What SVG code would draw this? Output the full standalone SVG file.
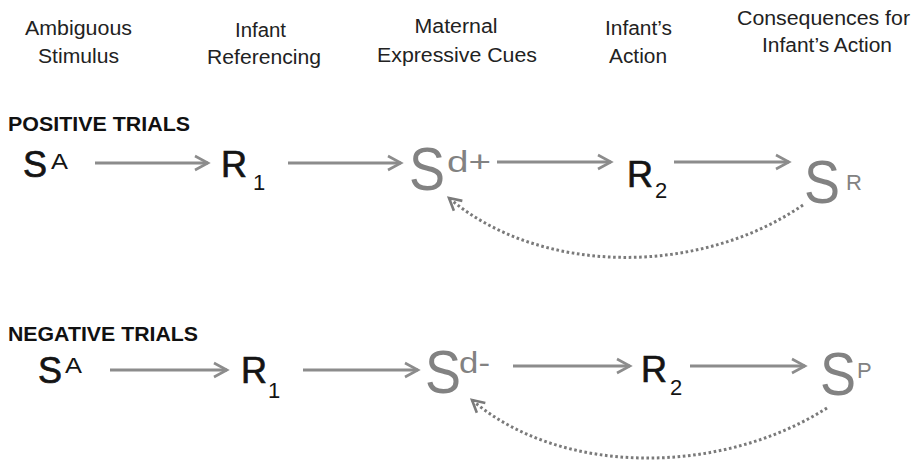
<svg xmlns="http://www.w3.org/2000/svg" width="916" height="462" viewBox="0 0 916 462">
<defs>
<marker id="ah" markerUnits="userSpaceOnUse" markerWidth="20" markerHeight="20" viewBox="-16 -10 20 20" refX="0" refY="0" orient="auto">
<path d="M-13,-7 L0,0 L-13,7" fill="none" stroke="#8c8c8c" stroke-width="2.6"/>
</marker>
<marker id="ahd" markerUnits="userSpaceOnUse" markerWidth="20" markerHeight="20" viewBox="-16 -10 20 20" refX="0" refY="0" orient="auto">
<path d="M-12,-6.5 L0,0 L-12,6.5" fill="none" stroke="#7a7a7a" stroke-width="2.6"/>
</marker>
</defs>
<style>
.hdr{font-family:"Liberation Sans",Arial,sans-serif;font-size:20px;fill:#222;text-anchor:middle}
.ttl{font-family:"Liberation Sans",Arial,sans-serif;font-size:20px;font-weight:bold;fill:#111}
.blk{font-family:"Liberation Sans",Arial,sans-serif;fill:#141414}
.gry{font-family:"Liberation Sans",Arial,sans-serif;fill:#828282}
.big{font-size:36px;stroke:#141414;stroke-width:0.7}
.gs{font-size:54px}
.sup{font-size:22px}
.arr{stroke:#8c8c8c;stroke-width:3;fill:none;marker-end:url(#ah)}
.dot{stroke:#7a7a7a;stroke-width:3;fill:none;stroke-dasharray:2.6 2.6;marker-end:url(#ahd)}
</style>
<rect width="916" height="462" fill="#ffffff"/>

<g id="headers">
<text class="hdr" x="78.5" y="35" textLength="107" lengthAdjust="spacingAndGlyphs">Ambiguous</text>
<text class="hdr" x="78.5" y="63" textLength="81" lengthAdjust="spacingAndGlyphs">Stimulus</text>
<text class="hdr" x="260.5" y="37" textLength="51" lengthAdjust="spacingAndGlyphs">Infant</text>
<text class="hdr" x="264" y="64" textLength="114" lengthAdjust="spacingAndGlyphs">Referencing</text>
<text class="hdr" x="456" y="33" textLength="83" lengthAdjust="spacingAndGlyphs">Maternal</text>
<text class="hdr" x="457" y="62" textLength="160" lengthAdjust="spacingAndGlyphs">Expressive Cues</text>
<text class="hdr" x="638.5" y="35" textLength="67" lengthAdjust="spacingAndGlyphs">Infant’s</text>
<text class="hdr" x="638" y="63" textLength="58" lengthAdjust="spacingAndGlyphs">Action</text>
<text class="hdr" x="823.5" y="25" textLength="173" lengthAdjust="spacingAndGlyphs">Consequences for</text>
<text class="hdr" x="827" y="52" textLength="130" lengthAdjust="spacingAndGlyphs">Infant’s Action</text>
</g>

<g id="pos-title"><text class="ttl" x="8" y="131" textLength="182" lengthAdjust="spacingAndGlyphs">POSITIVE TRIALS</text></g>
<g id="pos-SA"><text class="blk big" x="23" y="177">S</text><text class="blk sup" x="51" y="169" textLength="17" lengthAdjust="spacingAndGlyphs">A</text></g>
<g id="pos-R1"><text class="blk big" x="221" y="177">R</text><text class="blk sup" x="253" y="190">1</text></g>
<g id="pos-Sd"><text class="gry gs" transform="translate(409,190) scale(1,1.14)">S</text><text class="gry" style="font-size:30px" x="447" y="172" textLength="44" lengthAdjust="spacingAndGlyphs">d+</text></g>
<g id="pos-R2"><text class="blk big" x="627" y="187">R</text><text class="blk sup" x="655" y="198">2</text></g>
<g id="pos-SR"><text class="gry gs" transform="translate(804,203) scale(1,1.14)">S</text><text class="gry sup" x="846" y="190">R</text></g>

<g id="neg-title"><text class="ttl" x="8" y="341" textLength="190" lengthAdjust="spacingAndGlyphs">NEGATIVE TRIALS</text></g>
<g id="neg-SA"><text class="blk big" x="38" y="383">S</text><text class="blk sup" x="65" y="373" textLength="17" lengthAdjust="spacingAndGlyphs">A</text></g>
<g id="neg-R1"><text class="blk big" x="241" y="383">R</text><text class="blk sup" x="268" y="398">1</text></g>
<g id="neg-Sd"><text class="gry gs" transform="translate(425,393) scale(1,1.12)">S</text><text class="gry" style="font-size:30px" x="459" y="373" textLength="31" lengthAdjust="spacingAndGlyphs">d-</text></g>
<g id="neg-R2"><text class="blk big" x="641" y="382">R</text><text class="blk sup" x="670" y="395">2</text></g>
<g id="neg-SP"><text class="gry gs" transform="translate(820,395) scale(1,1.14)">S</text><text class="gry sup" x="857" y="378">P</text></g>

<g id="connectors">
<path class="arr" d="M95,163 L208,163"/>
<path class="arr" d="M288,163 L401,163"/>
<path class="arr" d="M497,162 L611,162"/>
<path class="arr" d="M674,162 L789,162"/>
<path class="dot" d="M803,205 C700,276 540,276 449,198"/>
<path class="arr" d="M110,370 L227,370"/>
<path class="arr" d="M303,370 L418,370"/>
<path class="arr" d="M513,366 L630,366"/>
<path class="arr" d="M690,366 L805,366"/>
<path class="dot" d="M827,408 C720,476 560,476 472,400"/>
</g>
</svg>
